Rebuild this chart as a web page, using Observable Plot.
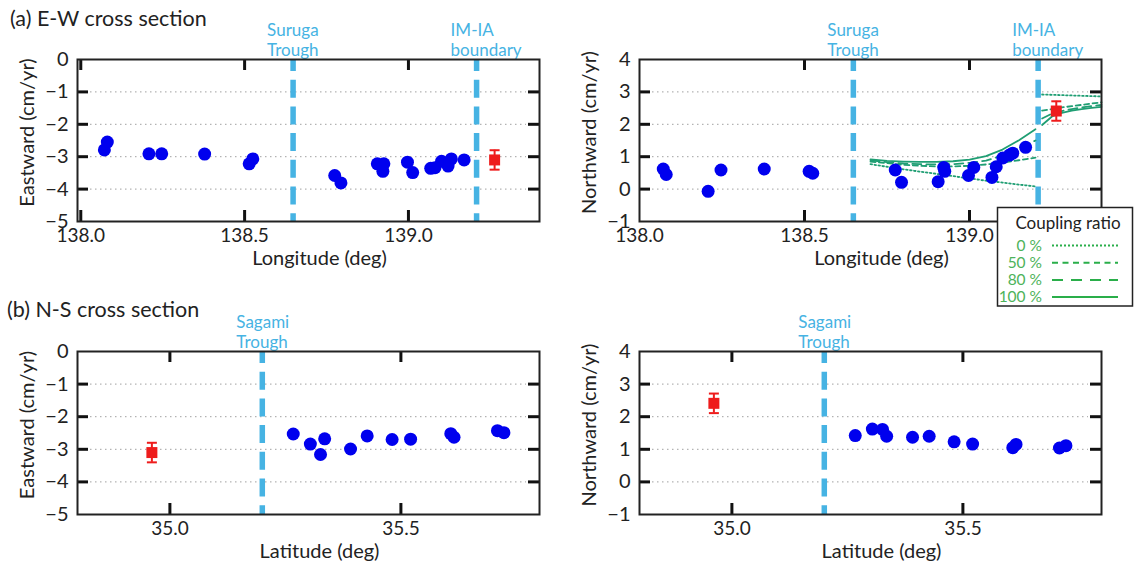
<!DOCTYPE html>
<html><head><meta charset="utf-8">
<script src="https://cdn.jsdelivr.net/npm/d3@7"></script>
<script src="https://cdn.jsdelivr.net/npm/@observablehq/plot@0.6"></script>
<style>
body{margin:0;background:#fff;}
#root{position:relative;width:1134px;height:563px;overflow:hidden;}
</style></head><body><div id="root"></div>
<script>
// ---------- data ----------
const panelTitles = ["(a) E-W cross section", "(b) N-S cross section"];
// E-W section stations
const ewLon   = [138.072,138.081,138.208,138.247,138.378,138.514,138.525,138.775,138.794,138.905,138.922,138.925,138.997,139.013,139.068,139.081,139.101,139.121,139.131,139.170];
const ewEast  = [-2.79,-2.55,-2.91,-2.91,-2.92,-3.22,-3.07,-3.58,-3.81,-3.22,-3.45,-3.22,-3.17,-3.49,-3.36,-3.34,-3.14,-3.29,-3.07,-3.10];
const ewNorth = [0.62,0.45,-0.07,0.59,0.62,0.55,0.49,0.59,0.21,0.23,0.67,0.55,0.42,0.67,0.36,0.69,0.96,1.05,1.11,1.29];
// N-S section stations
const nsLat   = [35.267,35.304,35.326,35.335,35.391,35.427,35.481,35.521,35.608,35.615,35.709,35.723];
const nsEast  = [-2.53,-2.84,-3.16,-2.68,-2.99,-2.59,-2.70,-2.69,-2.52,-2.63,-2.43,-2.49];
const nsNorth = [1.42,1.62,1.61,1.40,1.37,1.40,1.23,1.16,1.05,1.15,1.04,1.11];
// reference (red) site
const refLon = 139.263, refLat = 34.961;
const refEast = -3.10, refNorth = 2.41, refErr = 0.30;
// structural boundaries
const ewGuideLon = [138.648, 139.208];
const ewGuideLabel = ["Suruga\nTrough", "IM-IA\nboundary"];
const nsGuideLat = [35.2];
const nsGuideLabel = ["Sagami\nTrough"];
// model curves (northward, E-W section)
const couplingRatios = ["0 %", "50 %", "80 %", "100 %"];
const modelLonWest = [138.70,138.75,138.80,138.85,138.90,138.95,139.00,139.05,139.10,139.15,139.20];
const modelWest0   = [0.77,0.69,0.61,0.54,0.47,0.40,0.33,0.26,0.20,0.14,0.08];
const modelWest50  = [0.85,0.80,0.75,0.72,0.70,0.70,0.72,0.76,0.82,0.89,0.97];
const modelWest80  = [0.89,0.83,0.79,0.77,0.76,0.77,0.81,0.88,1.04,1.25,1.50];
const modelWest100 = [0.92,0.87,0.85,0.84,0.84,0.86,0.91,1.02,1.22,1.51,1.85];
const modelLonEast = [139.22,139.25,139.28,139.31,139.34,139.37,139.40];
const modelEast0   = [2.92,2.91,2.90,2.89,2.88,2.87,2.86];
const modelEast50  = [2.42,2.47,2.52,2.56,2.60,2.64,2.68];
const modelEast80  = [2.18,2.33,2.41,2.47,2.52,2.56,2.60];
const modelEast100 = [1.98,2.24,2.35,2.42,2.47,2.51,2.54];
// axes
const lonTicks = [138.0, 138.5, 139.0];
const latTicks = [35.0, 35.5];
const eastTicks = [0, -1, -2, -3, -4, -5];
const northTicks = [4, 3, 2, 1, 0, -1];

// ---------- styles ----------
const FONT = "Lato, 'Open Sans', sans-serif";
const INK = "#222";
const BLUE = "#0000ee", RED = "#ee1c1c", SKY = "#46b3e3", MODEL = "#1f9e73";
const LEG_LINE = "#2aae4a", LEG_TEXT = "#4db35a";
const dashes = ["1.6,2.4", "5,3.5", "9,5", null];
const capSymbol = {draw(ctx) { ctx.moveTo(-5, 0); ctx.lineTo(5, 0); }};
const TICK = 11; // inward tick length in px

const root = document.getElementById("root");

function makePanel(o) {
  const [mt, mr, mb, ml] = o.margins;
  const frameW = o.width - ml - mr, frameH = o.height - mt - mb;
  const [x0, x1] = o.xDomain, [y0, y1] = o.yDomain;
  const tx = (x1 - x0) * TICK / frameW, ty = (y1 - y0) * TICK / frameH;
  const pts = o.xs.map((x, i) => ({x, y: o.ys[i]}));
  const guides = o.guideX.map((x, i) => ({x, label: o.guideLabel[i]}));
  const ref = {x: o.refX, y: o.refY, lo: o.refY - refErr, hi: o.refY + refErr};
  const inner = o.yTicks.filter(v => v > y0 && v < y1);
  const innerX = o.xTicks.filter(v => v > x0 && v < x1);
  const marks = [
    Plot.ruleY(inner, {y: d => d, stroke: "#a0a0a0", strokeWidth: 1, strokeDasharray: "1.5,3.5", insetLeft: 13, insetRight: 13}),
    Plot.ruleX(guides, {x: "x", stroke: SKY, strokeWidth: 5.5, strokeDasharray: "18,8.7", strokeDashoffset: 6}),
    Plot.text(guides, {x: "x", text: "label", frameAnchor: "top", textAnchor: "start", lineAnchor: "bottom", dx: -26, dy: -4, fill: SKY, fontSize: 17, lineHeight: 1.15})
  ];
  if (o.curves) {
    o.curves.forEach((c, k) => {
      marks.push(Plot.line(c, {x: "x", y: "y", z: "seg", stroke: MODEL, strokeWidth: 1.8, strokeDasharray: dashes[k]}));
    });
  }
  marks.push(
    Plot.dot(pts, {x: "x", y: "y", r: 6.5, fill: BLUE}),
    Plot.ruleX([ref], {x: "x", y1: "lo", y2: "hi", stroke: RED, strokeWidth: 2}),
    Plot.dot([ref], {x: "x", y: "lo", symbol: capSymbol, stroke: RED, strokeWidth: 2}),
    Plot.dot([ref], {x: "x", y: "hi", symbol: capSymbol, stroke: RED, strokeWidth: 2}),
    Plot.dot([ref], {x: "x", y: "y", symbol: "square", r: 6.2, fill: RED}),
    // inward ticks on all four sides
    Plot.ruleX(innerX, {x: d => d, y1: y0, y2: y0 + ty, stroke: "#111", strokeWidth: 3}),
    Plot.ruleX(innerX, {x: d => d, y1: y1 - ty, y2: y1, stroke: "#111", strokeWidth: 3}),
    Plot.ruleY(inner, {y: d => d, x1: x0, x2: x0 + tx, stroke: "#111", strokeWidth: 3}),
    Plot.ruleY(inner, {y: d => d, x1: x1 - tx, x2: x1, stroke: "#111", strokeWidth: 3}),
    Plot.frame({stroke: INK, strokeWidth: 2}),
    Plot.axisX({ticks: o.xTicks, tickFormat: d3.format(".1f"), tickSize: 0, tickPadding: 7, label: null, fontSize: 19}),
    Plot.axisY({ticks: o.yTicks, tickFormat: d3.format("d"), tickSize: 0, tickPadding: 9, label: null, fontSize: 20}),
    Plot.text([o.yLabel], {text: d => d, frameAnchor: "left", textAnchor: "middle", rotate: -90, dx: -50, dy: -8, fontSize: 20, fill: INK}),
    Plot.text([o.xLabel], {text: d => d, frameAnchor: "bottom", textAnchor: "middle", lineAnchor: "middle", dx: 11, dy: 37, fontSize: 20, fill: INK})
  );
  const svg = Plot.plot({
    width: o.width, height: o.height,
    marginTop: mt, marginRight: mr, marginBottom: mb, marginLeft: ml,
    style: {fontFamily: FONT, fontSize: "19px", color: INK, background: "none", overflow: "visible"},
    x: {domain: o.xDomain},
    y: {domain: o.yDomain},
    marks
  });
  svg.style.position = "absolute";
  svg.style.left = o.left + "px";
  svg.style.top = o.top + "px";
  root.appendChild(svg);
}

function curveRows(west, east) {
  return modelLonWest.map((x, i) => ({x, y: west[i], seg: "w"}))
    .concat(modelLonEast.map((x, i) => ({x, y: east[i], seg: "e"})));
}
const curves = [
  curveRows(modelWest0, modelEast0),
  curveRows(modelWest50, modelEast50),
  curveRows(modelWest80, modelEast80),
  curveRows(modelWest100, modelEast100)
];

makePanel({left: 0, top: 0, width: 567, height: 280, margins: [59, 28, 59, 77],
  xDomain: [137.99, 139.4], yDomain: [-5, 0], xTicks: lonTicks, yTicks: eastTicks,
  xs: ewLon, ys: ewEast, refX: refLon, refY: refEast,
  guideX: ewGuideLon, guideLabel: ewGuideLabel,
  xLabel: "Longitude (deg)", yLabel: "Eastward (cm/yr)"});
makePanel({left: 567, top: 0, width: 567, height: 280, margins: [59, 33, 59, 72],
  xDomain: [138.0, 139.4], yDomain: [-1, 4], xTicks: lonTicks, yTicks: northTicks,
  xs: ewLon, ys: ewNorth, refX: refLon, refY: refNorth,
  guideX: ewGuideLon, guideLabel: ewGuideLabel, curves,
  xLabel: "Longitude (deg)", yLabel: "Northward (cm/yr)"});
makePanel({left: 0, top: 280, width: 567, height: 283, margins: [71, 28, 49, 77],
  xDomain: [34.8, 35.8], yDomain: [-5, 0], xTicks: latTicks, yTicks: eastTicks,
  xs: nsLat, ys: nsEast, refX: refLat, refY: refEast,
  guideX: nsGuideLat, guideLabel: nsGuideLabel,
  xLabel: "Latitude (deg)", yLabel: "Eastward (cm/yr)"});
makePanel({left: 567, top: 280, width: 567, height: 283, margins: [71, 33, 49, 72],
  xDomain: [34.8, 35.8], yDomain: [-1, 4], xTicks: latTicks, yTicks: northTicks,
  xs: nsLat, ys: nsNorth, refX: refLat, refY: refNorth,
  guideX: nsGuideLat, guideLabel: nsGuideLabel,
  xLabel: "Latitude (deg)", yLabel: "Northward (cm/yr)"});

// ---------- overlay: titles and legend ----------
const ov = d3.select(root).append("svg")
  .attr("width", 1134).attr("height", 563)
  .style("position", "absolute").style("left", "0px").style("top", "0px")
  .style("font-family", FONT);
ov.append("text").attr("x", 10).attr("y", 26).attr("font-size", 21.5).attr("fill", INK).text(panelTitles[0]);
ov.append("text").attr("x", 7).attr("y", 317).attr("font-size", 21.5).attr("fill", INK).text(panelTitles[1]);
const lg = ov.append("g");
lg.append("rect").attr("x", 997.5).attr("y", 207.5).attr("width", 135).attr("height", 98.5)
  .attr("fill", "#fff").attr("stroke", INK).attr("stroke-width", 1.5);
lg.append("text").attr("x", 1068).attr("y", 229).attr("text-anchor", "middle").attr("font-size", 17).attr("fill", INK).text("Coupling ratio");
couplingRatios.forEach((r, i) => {
  const yy = 245.5 + i * 17.2;
  lg.append("text").attr("x", 1042).attr("y", yy + 5).attr("text-anchor", "end").attr("font-size", 15.5).attr("fill", LEG_TEXT).text(r);
  lg.append("line").attr("x1", 1052).attr("x2", 1118).attr("y1", yy).attr("y2", yy)
    .attr("stroke", LEG_LINE).attr("stroke-width", 2).attr("stroke-dasharray", i === 0 ? "2,2" : i === 1 ? "6,4.5" : i === 2 ? "11,8" : null);
});
</script>
</body></html>
